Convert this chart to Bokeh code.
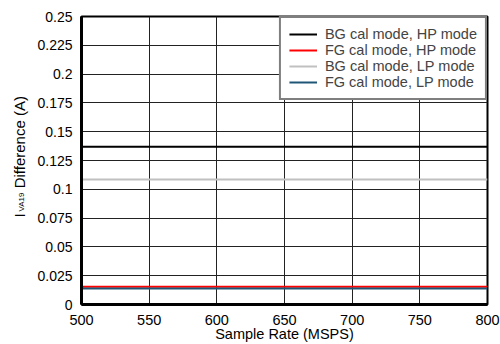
import math
from bokeh.plotting import figure
from bokeh.models import Label, Legend, LegendItem, FixedTicker, Range1d
from bokeh.embed import file_html
from bokeh.resources import INLINE

sample_rate = [500, 550, 600, 650, 700, 750, 800]
bg_hp = [0.137, 0.137, 0.137, 0.137, 0.137, 0.137, 0.137]
fg_hp = [0.0155, 0.0155, 0.0155, 0.0155, 0.0155, 0.0155, 0.0155]
bg_lp = [0.1085, 0.1085, 0.1085, 0.1085, 0.1085, 0.1085, 0.1085]
fg_lp = [0.0138, 0.0138, 0.0138, 0.0138, 0.0138, 0.0138, 0.0138]

series_names = ["BG cal mode, HP mode", "FG cal mode, HP mode",
                "BG cal mode, LP mode", "FG cal mode, LP mode"]
series_colors = ["#000000", "#ff0000", "#c0c0c0", "#1f5575"]

x_ticks = [500, 550, 600, 650, 700, 750, 800]
y_ticks = [0, 0.025, 0.05, 0.075, 0.1, 0.125, 0.15, 0.175, 0.2, 0.225, 0.25]
y_tick_labels = {0: "0", 0.025: "0.025", 0.05: "0.05", 0.075: "0.075", 0.1: "0.1",
                 0.125: "0.125", 0.15: "0.15", 0.175: "0.175", 0.2: "0.2",
                 0.225: "0.225", 0.25: "0.25"}

FONT = "Liberation Sans"

p = figure(width=500, height=344, output_backend="svg", toolbar_location=None,
           x_range=Range1d(500, 800), y_range=Range1d(0, 0.25),
           min_border_left=81, min_border_right=13, min_border_top=16, min_border_bottom=40)
p.background_fill_color = "white"
p.border_fill_color = "white"
p.outline_line_color = "black"
p.outline_line_width = 2

for ax in (p.xaxis[0], p.yaxis[0]):
    ax.axis_line_width = 3
    ax.axis_line_color = "black"
    ax.major_tick_in = 0
    ax.major_tick_out = 0
    ax.minor_tick_in = 0
    ax.minor_tick_out = 0
    ax.major_label_text_font = FONT
    ax.major_label_text_color = "black"
p.xaxis[0].major_label_text_font_size = "14.5px"
p.yaxis[0].major_label_text_font_size = "14px"

p.xaxis[0].ticker = FixedTicker(ticks=x_ticks)
p.yaxis[0].ticker = FixedTicker(ticks=y_ticks)
p.yaxis[0].major_label_overrides = y_tick_labels
p.xaxis[0].major_label_standoff = 10
p.yaxis[0].major_label_standoff = 9
p.xaxis[0].axis_label = "Sample Rate (MSPS)"
p.xaxis[0].axis_label_text_font = FONT
p.xaxis[0].axis_label_text_font_size = "14.5px"
p.xaxis[0].axis_label_text_font_style = "normal"
p.xaxis[0].axis_label_text_color = "black"
p.xaxis[0].axis_label_text_line_height = 0.9
p.xaxis[0].axis_label_standoff = -2

p.xgrid[0].ticker = FixedTicker(ticks=x_ticks)
p.ygrid[0].ticker = FixedTicker(ticks=y_ticks)
for g in (p.xgrid[0], p.ygrid[0]):
    g.grid_line_color = "#222222"
    g.grid_line_width = 1

ys = [bg_hp, fg_hp, bg_lp, fg_lp]
renderers = []
for vals, c in zip(ys, series_colors):
    r = p.line(sample_rate, vals, line_color=c, line_width=2)
    renderers.append(r)
items = [LegendItem(label=n, renderers=[r]) for n, r in zip(series_names, renderers)]
legend = Legend(items=items, location="top_right", margin=0, padding=8,
                spacing=0, label_height=16, glyph_height=16, glyph_width=28,
                label_standoff=8, label_text_font=FONT, label_text_font_size="14.5px",
                border_line_color="black", border_line_width=2,
                background_fill_color="white", background_fill_alpha=1)
p.add_layout(legend)

# y axis label: main text in the left panel, subscript in the right panel
ang = math.pi / 2
NB = "\u00a0"
p.add_layout(Label(x=2, y=87, x_units="screen", y_units="screen", angle=ang,
                   text="I" + NB * 6 + "Difference (A)", text_align="left",
                   text_baseline="alphabetic",
                   text_font=FONT, text_font_size="15px", text_color="black"), "left")
p.add_layout(Label(x=-466, y=93, x_units="screen", y_units="screen", angle=ang,
                   text="VA19", text_align="left", text_baseline="alphabetic",
                   text_font=FONT, text_font_size="8px", text_color="black"), "right")

open("out.html", "w").write(file_html(p, INLINE))
